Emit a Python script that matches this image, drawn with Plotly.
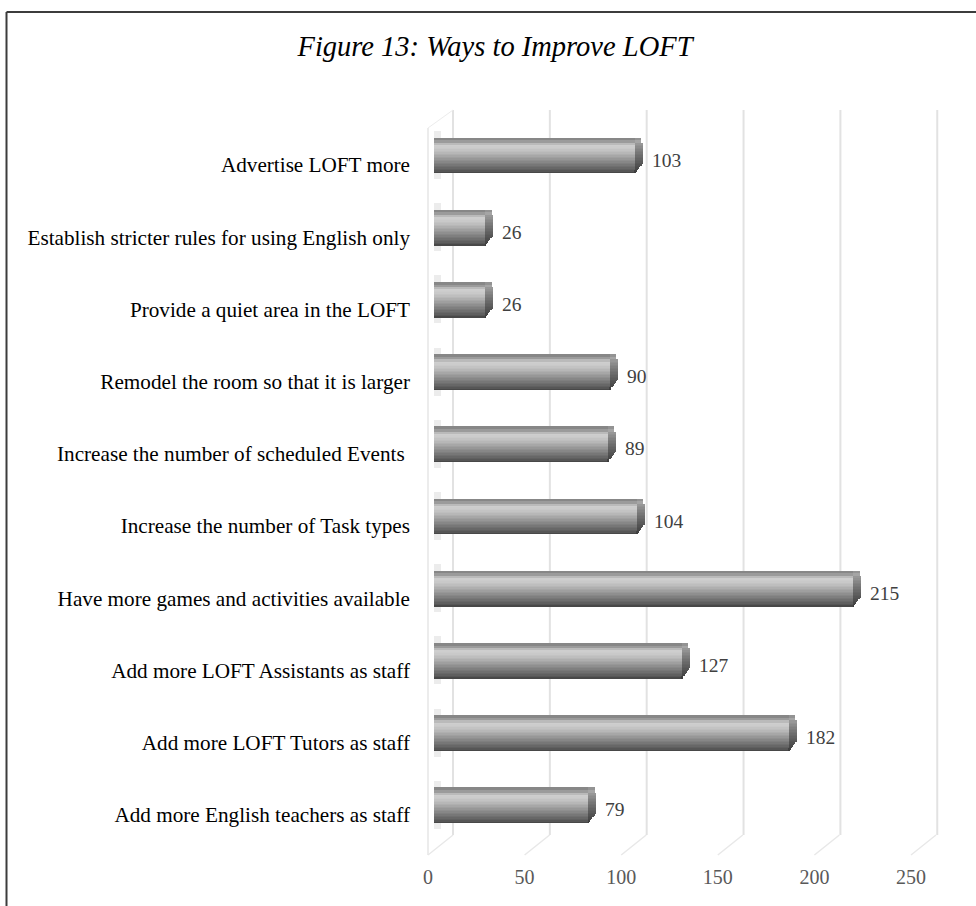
import plotly.graph_objects as go

# ---- data -------------------------------------------------------------
categories = [
    "Advertise LOFT more",
    "Establish stricter rules for using English only",
    "Provide a quiet area in the LOFT",
    "Remodel the room so that it is larger",
    "Increase the number of scheduled Events\u00a0",
    "Increase the number of Task types",
    "Have more games and activities available",
    "Add more LOFT Assistants as staff",
    "Add more LOFT Tutors as staff",
    "Add more English teachers as staff",
]
values = [103, 26, 26, 90, 89, 104, 215, 127, 182, 79]
x_ticks = [0, 50, 100, 150, 200, 250]
title_text = "Figure 13: Ways to Improve LOFT"

# ---- geometry ---------------------------------------------------------
W, H = 976, 906
M_L, M_R, M_T, M_B = 420, 20, 110, 51
PLOT_W = W - M_L - M_R
PLOT_H = H - M_T - M_B

SERIF = "Liberation Serif, Times New Roman, serif"

CAT_PX = 72.2          # pixel spacing between categories
FIRST_CAT_PX = 40.2    # bottom category centre above plot bottom
BAR_SCALE = 1.947      # px per unit along the bar axis
BAR_ZERO = 14.4        # px from plot left to bar base
FRONT_SCALE, FRONT_ZERO = 1.932, 8.0    # front (tick label) plane
BACK_SCALE, BACK_ZERO = 1.937, 33.0     # back wall plane
DEPTH_DX, DEPTH_DY = 25, 20             # floor depth offset in px
WALL_FRONT_TOP = 727                    # px above plot bottom


def axis_range(zero_px, scale):
    return [-zero_px / scale, (PLOT_W - zero_px) / scale]


def hex_to_rgb(h):
    h = h.lstrip("#")
    return tuple(int(h[i:i + 2], 16) for i in (0, 2, 4))


def mix(c1, c2, t):
    a, b = hex_to_rgb(c1), hex_to_rgb(c2)
    r = [round(a[i] + (b[i] - a[i]) * t) for i in range(3)]
    return "#%02x%02x%02x" % tuple(r)


def shade(stops, h):
    # stops: list of (px_up, colour) sorted descending by px_up
    for (h1, c1), (h2, c2) in zip(stops, stops[1:]):
        if h2 <= h <= h1:
            t = (h1 - h) / (h1 - h2) if h1 != h2 else 0
            return mix(c1, c2, t)
    return stops[-1][1] if h < stops[-1][0] else stops[0][1]


# vertical profile of a bar (px above the category centre)
FACE_TOP, FACE_BOT = 22.0, -8.0
TOPFACE_TOP = 27.5
CAP_PX = 8.0
face_stops = [
    (22.0, "#a6a6a6"), (20.5, "#cfcfcf"), (17.0, "#cacaca"),
    (13.0, "#bbbbbb"), (9.0, "#a6a6a6"), (5.0, "#909090"),
    (1.0, "#7b7b7b"), (-3.0, "#666666"), (-6.0, "#555555"),
    (-8.0, "#404040"),
]
cap_stops = [
    (22.0, "#9a9a9a"), (18.0, "#8a8a8a"), (10.0, "#6e6e6e"),
    (2.0, "#575757"), (-4.0, "#474747"), (-8.0, "#3a3a3a"),
]

y_cats = categories
u = 1.0 / CAT_PX      # px -> category units
ux = 1.0 / BAR_SCALE  # px -> value units

fig = go.Figure()

# faint footprint of each bar on the side wall
fig.add_trace(go.Bar(
    x=[7 * ux] * len(values), y=y_cats, orientation="h",
    base=0, offset=-14 * u, width=48 * u,
    marker=dict(color="#ececec", line=dict(width=0)),
    hoverinfo="skip", showlegend=False,
))

# top face of each bar
for lo, hi, col in [(FACE_TOP, 24.8, "#9b9b9b"), (24.8, TOPFACE_TOP, "#878787")]:
    fig.add_trace(go.Bar(
        x=values, y=y_cats, orientation="h", base=0,
        offset=lo * u, width=(hi - lo) * u,
        marker=dict(color=col, line=dict(width=0)),
        hoverinfo="skip", showlegend=False,
    ))
    fig.add_trace(go.Bar(
        x=[(CAP_PX - 1.5) * ux] * len(values), y=y_cats, orientation="h",
        base=values, offset=lo * u, width=(hi - lo) * u,
        marker=dict(color=mix(col, "#ffffff", 0.1), line=dict(width=0)),
        hoverinfo="skip", showlegend=False,
    ))

# front face with a vertical shading, built from thin bands
STEP = 1.5
h = FACE_BOT
while h < FACE_TOP - 1e-6:
    top = min(h + STEP, FACE_TOP)
    mid = (h + top) / 2
    fig.add_trace(go.Bar(
        x=values, y=y_cats, orientation="h", base=0,
        offset=h * u, width=(top - h) * u + 0.002,
        marker=dict(color=shade(face_stops, mid), line=dict(width=0)),
        hoverinfo="skip", showlegend=False,
    ))
    # bevelled end cap, chamfered toward the lower edge
    cap_len = CAP_PX if mid > 2 else CAP_PX * max(mid - FACE_BOT, 0.5) / (2 - FACE_BOT)
    fig.add_trace(go.Bar(
        x=[cap_len * ux] * len(values), y=y_cats, orientation="h",
        base=values, offset=h * u, width=(top - h) * u + 0.002,
        marker=dict(color=shade(cap_stops, mid), line=dict(width=0)),
        hoverinfo="skip", showlegend=False,
    ))
    h = top

# ---- decorations: 3-D walls and grid ----------------------------------
shapes = []
grid_col = "#e2e2e2"
floor_col = "#e8e8e8"
for t in x_ticks:
    # back-wall gridline
    shapes.append(dict(
        type="line", xref="x3", yref="paper", x0=t, x1=t,
        y0=DEPTH_DY / PLOT_H, y1=1, layer="below",
        line=dict(color=grid_col, width=2),
    ))
    # floor edge from front plane to back wall
    shapes.append(dict(
        type="line", xref="x2", yref="paper",
        xsizemode="pixel", xanchor=t, x0=0, x1=DEPTH_DX,
        ysizemode="pixel", yanchor=0, y0=0, y1=DEPTH_DY, layer="below",
        line=dict(color=floor_col, width=1.5),
    ))
# front edge of the side wall
shapes.append(dict(
    type="line", xref="x2", yref="paper", x0=0, x1=0,
    y0=0, y1=WALL_FRONT_TOP / PLOT_H, layer="below",
    line=dict(color="#e6e6e6", width=1.5),
))
shapes.append(dict(
    type="line", xref="x2", yref="paper",
    xsizemode="pixel", xanchor=0, x0=0, x1=DEPTH_DX,
    ysizemode="pixel", yanchor=WALL_FRONT_TOP / PLOT_H, y0=0, y1=PLOT_H - WALL_FRONT_TOP,
    layer="below", line=dict(color="#ececec", width=1),
))

# frame around the figure (top and left edges)
bx = (6.5 - M_L) / PLOT_W
by = (H - M_B - 12) / PLOT_H
shapes.append(dict(type="line", xref="paper", yref="paper",
                   x0=bx, x1=(W - M_L) / PLOT_W, y0=by, y1=by,
                   line=dict(color="#3c3c3c", width=2)))
shapes.append(dict(type="line", xref="paper", yref="paper",
                   x0=bx, x1=bx, y0=by, y1=-M_B / PLOT_H,
                   line=dict(color="#3c3c3c", width=2)))

# value labels
annotations = []
for cat, v in zip(categories, values):
    annotations.append(dict(
        x=v, y=cat, xref="x", yref="y", text=str(v), showarrow=False,
        xanchor="left", yanchor="middle", xshift=15, yshift=5,
        font=dict(family=SERIF, size=19.5, color="#404040"),
    ))

fig.update_layout(
    width=W, height=H,
    margin=dict(l=M_L, r=M_R, t=M_T, b=M_B, pad=0),
    paper_bgcolor="white", plot_bgcolor="white",
    barmode="overlay", bargap=0,
    showlegend=False,
    title=dict(
        text=title_text, xref="container", yref="container",
        x=495 / W, y=1 - 46 / H, xanchor="center", yanchor="middle",
        font=dict(family=SERIF, size=28.5, color="#000000", style="italic"),
    ),
    xaxis=dict(
        range=axis_range(BAR_ZERO, BAR_SCALE), visible=False,
        showgrid=False, zeroline=False,
    ),
    xaxis2=dict(
        range=axis_range(FRONT_ZERO, FRONT_SCALE), overlaying="x",
        anchor="y", side="bottom", tickvals=x_ticks,
        ticktext=[str(t) for t in x_ticks], showgrid=False,
        zeroline=False, showline=False, ticks="",
        ticklabelstandoff=8,
        tickfont=dict(family=SERIF, size=20, color="#595959"),
    ),
    xaxis3=dict(
        range=axis_range(BACK_ZERO, BACK_SCALE), overlaying="x",
        anchor="y", visible=False, showgrid=False, zeroline=False,
    ),
    yaxis=dict(
        type="category", categoryorder="array",
        categoryarray=categories[::-1],
        range=[-FIRST_CAT_PX / CAT_PX, (PLOT_H - FIRST_CAT_PX) / CAT_PX],
        showgrid=False, zeroline=False, showline=False, ticks="",
        ticklabelstandoff=9,
        tickfont=dict(family=SERIF, size=21.2, color="#000000"),
    ),
    shapes=shapes,
    annotations=annotations,
)

# empty traces so the front tick axis and back-wall axis are drawn
fig.add_trace(go.Scatter(x=[None], y=[None], xaxis="x2", yaxis="y",
                         hoverinfo="skip", showlegend=False))
fig.add_trace(go.Scatter(x=[None], y=[None], xaxis="x3", yaxis="y",
                         hoverinfo="skip", showlegend=False))

fig.write_html("out.html")
